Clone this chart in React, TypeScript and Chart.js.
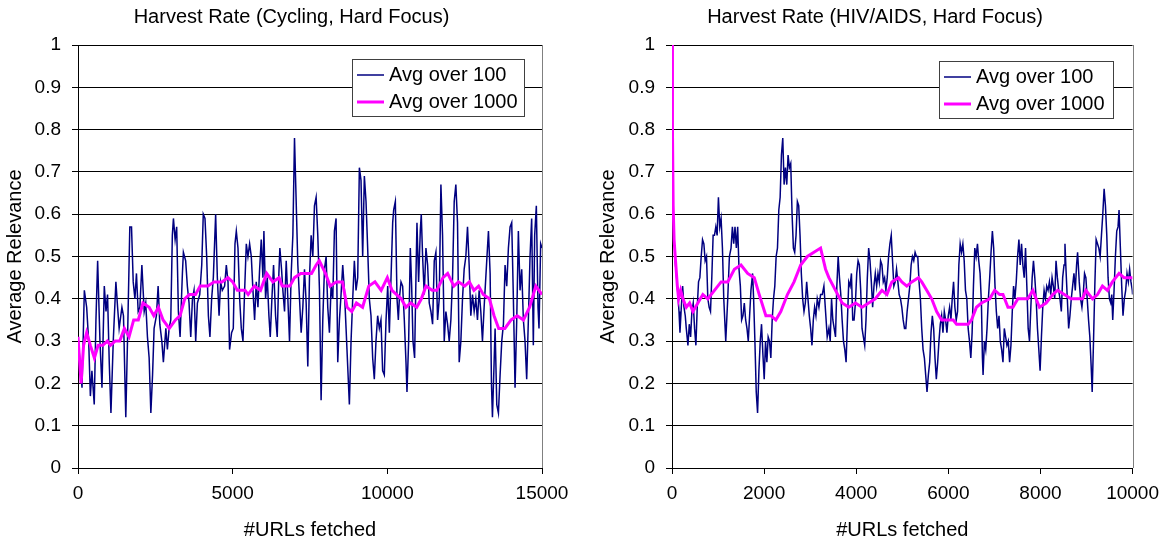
import React, { useEffect, useRef } from "react";
import { Chart, registerables } from "chart.js";

Chart.register(...registerables);

// ---------- Data: Cycling (left panel) ----------
const cyclingTitle = "Harvest Rate (Cycling, Hard Focus)";
const cyclingXMax = 15000;
const cyclingXStep = 5000;

const cyclingAvg100X = [
  0, 130, 205, 280, 345, 400, 450, 525, 580, 635, 710, 775, 850, 905, 955, 1010, 1065, 1140, 1225, 1280,
  1330, 1420, 1470, 1545, 1600, 1675, 1730, 1785, 1840, 1890, 1945, 2000, 2065, 2140, 2190, 2245, 2300, 2355, 2410, 2460,
  2535, 2590, 2645, 2710, 2760, 2840, 2890, 2945, 2999, 3050, 3085, 3140, 3190, 3245, 3300, 3375, 3407, 3480, 3535, 3590,
  3645, 3700, 3750, 3805, 3860, 3935, 4000, 4050, 4105, 4160, 4215, 4265, 4320, 4375, 4450, 4505, 4560, 4610, 4665, 4740,
  4795, 4850, 4900, 4965, 5020, 5075, 5118, 5172, 5226, 5279, 5333, 5387, 5441, 5494, 5548, 5602, 5656, 5709, 5763, 5817,
  5871, 5924, 5978, 6010, 6064, 6118, 6172, 6215, 6268, 6322, 6387, 6440, 6494, 6526, 6580, 6623, 6677, 6731, 6784, 6838,
  6892, 6946, 6999, 7053, 7107, 7161, 7214, 7268, 7322, 7376, 7429, 7483, 7537, 7591, 7644, 7698, 7752, 7806, 7859, 7913,
  7967, 8021, 8074, 8128, 8182, 8236, 8289, 8343, 8397, 8451, 8504, 8558, 8612, 8666, 8719, 8773, 8827, 8881, 8934, 8988,
  9042, 9096, 9149, 9203, 9257, 9311, 9364, 9418, 9472, 9526, 9579, 9633, 9687, 9741, 9794, 9848, 9902, 9958, 10012, 10065,
  10119, 10173, 10205, 10259, 10313, 10356, 10388, 10442, 10495, 10549, 10603, 10635, 10689, 10743, 10786, 10829, 10882, 10925, 10958, 11011,
  11065, 11097, 11140, 11194, 11248, 11302, 11355, 11409, 11463, 11517, 11570, 11624, 11678, 11732, 11785, 11839, 11893, 11947, 12000, 12054,
  12108, 12162, 12215, 12269, 12323, 12377, 12430, 12484, 12538, 12592, 12645, 12699, 12753, 12807, 12860, 12914, 12968, 13022, 13075, 13129,
  13183, 13237, 13269, 13323, 13366, 13398, 13452, 13484, 13538, 13591, 13645, 13699, 13753, 13806, 13860, 13914, 13968, 14021, 14075, 14129,
  14183, 14236, 14290, 14344, 14398, 14451, 14505, 14559, 14613, 14666, 14720, 14763, 14817, 14871, 14903, 14957, 15000,
];
const cyclingAvg100Y = [
  0.31, 0.19, 0.42, 0.38, 0.30, 0.17, 0.23, 0.15, 0.35, 0.49, 0.30, 0.19, 0.43, 0.37, 0.41, 0.25, 0.13, 0.30, 0.44, 0.38,
  0.33, 0.38, 0.36, 0.12, 0.30, 0.57, 0.57, 0.44, 0.40, 0.46, 0.37, 0.38, 0.48, 0.37, 0.39, 0.31, 0.26, 0.13, 0.22, 0.33,
  0.36, 0.43, 0.34, 0.30, 0.25, 0.33, 0.28, 0.33, 0.35, 0.55, 0.59, 0.54, 0.57, 0.37, 0.31, 0.46, 0.51, 0.49, 0.43, 0.39,
  0.31, 0.40, 0.42, 0.30, 0.39, 0.41, 0.48, 0.60, 0.59, 0.50, 0.36, 0.31, 0.40, 0.45, 0.60, 0.45, 0.36, 0.44, 0.42, 0.43,
  0.48, 0.44, 0.28, 0.32, 0.33, 0.53, 0.56, 0.52, 0.40, 0.33, 0.30, 0.42, 0.53, 0.50, 0.53, 0.50, 0.42, 0.35, 0.44, 0.38,
  0.47, 0.54, 0.45, 0.56, 0.40, 0.45, 0.36, 0.31, 0.40, 0.48, 0.36, 0.31, 0.46, 0.52, 0.47, 0.42, 0.37, 0.49, 0.40, 0.30,
  0.46, 0.55, 0.78, 0.63, 0.48, 0.40, 0.32, 0.38, 0.47, 0.39, 0.24, 0.45, 0.55, 0.50, 0.62, 0.64, 0.55, 0.42, 0.16, 0.35,
  0.47, 0.50, 0.38, 0.32, 0.43, 0.40, 0.56, 0.59, 0.25, 0.35, 0.41, 0.48, 0.42, 0.33, 0.24, 0.15, 0.30, 0.40, 0.49, 0.42,
  0.45, 0.71, 0.68, 0.50, 0.69, 0.63, 0.52, 0.40, 0.36, 0.26, 0.21, 0.30, 0.36, 0.33, 0.35, 0.23, 0.22, 0.35, 0.43, 0.32,
  0.45, 0.58, 0.61, 0.63, 0.40, 0.35, 0.40, 0.44, 0.43, 0.35, 0.25, 0.18, 0.30, 0.52, 0.43, 0.30, 0.26, 0.45, 0.58, 0.44,
  0.56, 0.60, 0.50, 0.41, 0.52, 0.48, 0.39, 0.37, 0.34, 0.49, 0.51, 0.35, 0.40, 0.67, 0.55, 0.30, 0.37, 0.34, 0.30, 0.35,
  0.45, 0.63, 0.67, 0.58, 0.25, 0.30, 0.40, 0.47, 0.50, 0.57, 0.48, 0.36, 0.41, 0.37, 0.40, 0.35, 0.42, 0.37, 0.30, 0.38,
  0.45, 0.52, 0.56, 0.46, 0.20, 0.12, 0.25, 0.33, 0.15, 0.13, 0.22, 0.30, 0.34, 0.48, 0.43, 0.52, 0.57, 0.58, 0.40, 0.19,
  0.35, 0.56, 0.42, 0.47, 0.35, 0.30, 0.21, 0.35, 0.50, 0.59, 0.29, 0.55, 0.62, 0.38, 0.33, 0.53, 0.52,
];

const cyclingAvg1000X = [
  0, 100, 180, 280, 400, 530, 650, 800, 950, 1050, 1200, 1350, 1500, 1650, 1800, 1950, 2100, 2300, 2450, 2600,
  2750, 2950, 3150, 3300, 3450, 3600, 3800, 3950, 4200, 4400, 4650, 4850, 5000, 5150, 5400, 5500, 5700, 5900, 6100, 6300,
  6500, 6600, 6850, 7000, 7200, 7400, 7550, 7700, 7800, 8000, 8150, 8350, 8550, 8700, 8850, 9000, 9200, 9400, 9600, 9800,
  10000, 10150, 10300, 10450, 10600, 10750, 10950, 11100, 11250, 11450, 11600, 11800, 11950, 12150, 12300, 12500, 12650, 12800, 12950, 13100,
  13300, 13450, 13600, 13800, 14000, 14200, 14400, 14600, 14800, 15000,
];
const cyclingAvg1000Y = [
  0.31, 0.20, 0.29, 0.32, 0.29, 0.26, 0.29, 0.29, 0.30, 0.29, 0.30, 0.30, 0.33, 0.31, 0.35, 0.35, 0.39, 0.38, 0.36, 0.38,
  0.35, 0.33, 0.35, 0.36, 0.40, 0.41, 0.41, 0.43, 0.43, 0.44, 0.44, 0.45, 0.44, 0.42, 0.42, 0.41, 0.43, 0.42, 0.46, 0.44,
  0.45, 0.43, 0.43, 0.45, 0.46, 0.46, 0.46, 0.48, 0.49, 0.46, 0.43, 0.44, 0.44, 0.38, 0.37, 0.39, 0.38, 0.43, 0.44, 0.42,
  0.45, 0.42, 0.41, 0.40, 0.38, 0.39, 0.38, 0.40, 0.43, 0.42, 0.42, 0.45, 0.46, 0.43, 0.44, 0.43, 0.44, 0.42, 0.43, 0.41,
  0.40, 0.36, 0.33, 0.33, 0.35, 0.36, 0.35, 0.38, 0.43, 0.41,
];

// ---------- Data: HIV/AIDS (right panel) ----------
const hivTitle = "Harvest Rate (HIV/AIDS, Hard Focus)";
const hivXMax = 10000;
const hivXStep = 2000;

const hivAvg100X = [
  60, 116, 152, 173, 202, 231, 260, 288, 310, 346, 375, 404, 432, 461, 490, 519, 548, 576, 605, 634,
  663, 692, 720, 749, 778, 807, 836, 864, 893, 922, 951, 980, 1008, 1037, 1066, 1095, 1124, 1167, 1210, 1246,
  1282, 1311, 1340, 1368, 1397, 1426, 1455, 1484, 1512, 1541, 1570, 1599, 1628, 1656, 1685, 1714, 1750, 1772, 1800, 1829,
  1858, 1887, 1916, 1944, 1973, 2002, 2031, 2060, 2088, 2117, 2146, 2175, 2204, 2232, 2261, 2290, 2319, 2348, 2376, 2405,
  2434, 2463, 2492, 2520, 2549, 2578, 2607, 2636, 2664, 2693, 2722, 2751, 2780, 2808, 2837, 2866, 2895, 2924, 2952, 2981,
  3010, 3039, 3068, 3096, 3125, 3154, 3190, 3226, 3262, 3298, 3334, 3370, 3406, 3435, 3464, 3492, 3521, 3550, 3579, 3608,
  3636, 3665, 3694, 3723, 3752, 3780, 3809, 3838, 3867, 3896, 3924, 3953, 3982, 4011, 4040, 4068, 4097, 4126, 4155, 4184,
  4212, 4241, 4270, 4299, 4328, 4356, 4385, 4414, 4443, 4472, 4500, 4529, 4558, 4587, 4616, 4644, 4673, 4702, 4731, 4760,
  4788, 4817, 4846, 4875, 4904, 4932, 4961, 4990, 5019, 5048, 5076, 5105, 5134, 5163, 5192, 5220, 5249, 5278, 5307, 5336,
  5364, 5393, 5422, 5451, 5480, 5508, 5537, 5566, 5595, 5624, 5652, 5681, 5710, 5739, 5768, 5796, 5825, 5854, 5883, 5912,
  5940, 5969, 5998, 6027, 6056, 6084, 6113, 6142, 6171, 6200, 6228, 6257, 6286, 6315, 6344, 6372, 6401, 6430, 6459, 6488,
  6516, 6545, 6574, 6603, 6632, 6660, 6689, 6718, 6740, 6754, 6783, 6812, 6840, 6869, 6898, 6927, 6956, 6984, 7013, 7042,
  7071, 7100, 7128, 7157, 7186, 7215, 7244, 7272, 7301, 7330, 7359, 7388, 7416, 7445, 7474, 7503, 7532, 7560, 7589, 7618,
  7647, 7676, 7704, 7733, 7762, 7791, 7820, 7848, 7877, 7906, 7935, 7964, 7992, 8021, 8050, 8079, 8108, 8136, 8165, 8194,
  8223, 8252, 8280, 8309, 8338, 8367, 8396, 8424, 8453, 8482, 8511, 8532, 8554, 8583, 8612, 8640, 8669, 8698, 8727, 8756,
  8784, 8806, 8842, 8871, 8900, 8928, 8957, 8986, 9015, 9044, 9072, 9101, 9123, 9152, 9180, 9209, 9238, 9267, 9296, 9324,
  9353, 9382, 9411, 9440, 9468, 9497, 9526, 9548, 9569, 9598, 9627, 9656, 9684, 9706, 9735, 9764, 9792, 9821, 9850, 9879,
  9908, 9936, 9965, 9994, 10000,
];
const hivAvg100Y = [
  0.50, 0.43, 0.37, 0.32, 0.38, 0.43, 0.38, 0.36, 0.33, 0.29, 0.34, 0.31, 0.37, 0.39, 0.33, 0.29, 0.38, 0.44, 0.45, 0.50,
  0.54, 0.53, 0.49, 0.50, 0.40, 0.38, 0.37, 0.45, 0.55, 0.55, 0.57, 0.55, 0.64, 0.57, 0.59, 0.52, 0.40, 0.30, 0.40, 0.50,
  0.52, 0.57, 0.53, 0.57, 0.52, 0.57, 0.47, 0.43, 0.35, 0.36, 0.39, 0.35, 0.33, 0.30, 0.36, 0.42, 0.46, 0.40, 0.30, 0.18,
  0.13, 0.23, 0.30, 0.34, 0.27, 0.21, 0.30, 0.25, 0.31, 0.30, 0.26, 0.35, 0.40, 0.43, 0.50, 0.52, 0.61, 0.64, 0.74, 0.78,
  0.67, 0.71, 0.67, 0.74, 0.71, 0.72, 0.60, 0.52, 0.51, 0.55, 0.63, 0.62, 0.55, 0.46, 0.40, 0.37, 0.39, 0.44, 0.40, 0.36,
  0.33, 0.29, 0.35, 0.38, 0.36, 0.40, 0.38, 0.41, 0.41, 0.43, 0.37, 0.31, 0.33, 0.30, 0.40, 0.35, 0.33, 0.31, 0.43, 0.50,
  0.45, 0.41, 0.35, 0.30, 0.28, 0.25, 0.35, 0.44, 0.43, 0.46, 0.35, 0.35, 0.39, 0.46, 0.49, 0.48, 0.42, 0.33, 0.31, 0.29,
  0.35, 0.45, 0.52, 0.49, 0.44, 0.38, 0.43, 0.46, 0.43, 0.46, 0.44, 0.49, 0.48, 0.44, 0.45, 0.42, 0.45, 0.50, 0.53, 0.55,
  0.49, 0.43, 0.44, 0.47, 0.44, 0.41, 0.40, 0.38, 0.35, 0.33, 0.33, 0.37, 0.40, 0.43, 0.48, 0.50, 0.49, 0.51, 0.50, 0.50,
  0.44, 0.40, 0.33, 0.28, 0.26, 0.22, 0.18, 0.22, 0.25, 0.32, 0.36, 0.33, 0.26, 0.21, 0.25, 0.30, 0.34, 0.36, 0.32, 0.37,
  0.35, 0.32, 0.36, 0.38, 0.35, 0.40, 0.44, 0.38, 0.35, 0.37, 0.48, 0.53, 0.51, 0.53, 0.49, 0.42, 0.40, 0.33, 0.30, 0.26,
  0.32, 0.43, 0.52, 0.50, 0.53, 0.49, 0.46, 0.39, 0.26, 0.22, 0.30, 0.28, 0.33, 0.40, 0.45, 0.51, 0.56, 0.52, 0.43, 0.37,
  0.33, 0.36, 0.30, 0.28, 0.25, 0.33, 0.31, 0.29, 0.30, 0.25, 0.29, 0.37, 0.43, 0.40, 0.44, 0.50, 0.54, 0.48, 0.53, 0.48,
  0.45, 0.52, 0.43, 0.33, 0.30, 0.38, 0.45, 0.49, 0.45, 0.40, 0.33, 0.28, 0.23, 0.31, 0.38, 0.42, 0.40, 0.43, 0.42, 0.44,
  0.41, 0.45, 0.43, 0.40, 0.49, 0.45, 0.42, 0.40, 0.37, 0.45, 0.48, 0.53, 0.47, 0.40, 0.33, 0.36, 0.40, 0.43, 0.46, 0.42,
  0.48, 0.51, 0.44, 0.40, 0.38, 0.41, 0.46, 0.45, 0.40, 0.35, 0.31, 0.24, 0.18, 0.30, 0.43, 0.54, 0.53, 0.52, 0.50, 0.55,
  0.60, 0.66, 0.62, 0.55, 0.45, 0.40, 0.39, 0.41, 0.35, 0.42, 0.50, 0.56, 0.57, 0.61, 0.52, 0.43, 0.36, 0.40, 0.42, 0.46,
  0.44, 0.47, 0.44, 0.42, 0.41,
];

const hivAvg1000X = [
  0, 10, 25, 45, 70, 116, 144, 188, 238, 310, 382, 454, 562, 670, 778, 922, 1066, 1210, 1354, 1498,
  1642, 1786, 1894, 2038, 2146, 2254, 2362, 2506, 2650, 2794, 2938, 3082, 3226, 3334, 3406, 3550, 3694, 3838, 3982, 4126,
  4270, 4414, 4558, 4666, 4774, 4918, 4990, 5098, 5206, 5350, 5422, 5530, 5638, 5746, 5854, 5998, 6106, 6178, 6286, 6430,
  6502, 6610, 6718, 6898, 7006, 7114, 7186, 7294, 7402, 7510, 7618, 7726, 7834, 7978, 8122, 8266, 8374, 8518, 8662, 8806,
  8914, 8986, 9058, 9130, 9238, 9346, 9454, 9562, 9706, 9814, 9922, 10000,
];
const hivAvg1000Y = [
  1.0, 0.80, 0.62, 0.54, 0.50, 0.43, 0.40, 0.42, 0.40, 0.38, 0.39, 0.37, 0.39, 0.41, 0.40, 0.42, 0.44, 0.44, 0.47, 0.48,
  0.46, 0.45, 0.41, 0.36, 0.36, 0.35, 0.37, 0.41, 0.44, 0.48, 0.50, 0.51, 0.52, 0.47, 0.45, 0.42, 0.39, 0.38, 0.39, 0.38,
  0.39, 0.40, 0.42, 0.41, 0.44, 0.45, 0.44, 0.43, 0.44, 0.45, 0.44, 0.42, 0.40, 0.37, 0.35, 0.35, 0.35, 0.34, 0.34, 0.34,
  0.35, 0.38, 0.39, 0.40, 0.42, 0.41, 0.41, 0.38, 0.38, 0.40, 0.40, 0.40, 0.42, 0.38, 0.39, 0.41, 0.42, 0.41, 0.40, 0.40,
  0.40, 0.42, 0.41, 0.40, 0.41, 0.43, 0.42, 0.44, 0.46, 0.45, 0.45, 0.45,
];

// ---------- Shared labels / ticks ----------
const seriesLabels = ["Avg over 100", "Avg over 1000"];
const yAxisTitle = "Average Relevance";
const xAxisTitle = "#URLs fetched";
const yMin = 0;
const yMax = 1;
const yStep = 0.1;

// ---------- Styles ----------
const FONT = '"Liberation Sans", Arial, Helvetica, sans-serif';
const BLUE = "#000080";
const PINK = "#FF00FF";

type PanelProps = {
  title: string;
  x100: number[];
  y100: number[];
  x1000: number[];
  y1000: number[];
  xMax: number;
  xStep: number;
  width: number;
  left: number;
  axisWidth: number;
  padRight: number;
  yTitlePad: number;
  legendBox: { x: number; y: number; w: number; h: number };
};

function toPoints(xs: number[], ys: number[]) {
  return xs.map((x, i) => ({ x, y: ys[i] }));
}

function HarvestPanel(p: PanelProps) {
  const ref = useRef<HTMLCanvasElement | null>(null);

  useEffect(() => {
    const canvas = ref.current;
    if (!canvas) return;

    const decor = {
      id: "decor",
      afterDatasetsDraw(chart: any) {
        const ctx = chart.ctx;
        const a = chart.chartArea;
        ctx.save();
        // right frame line
        ctx.strokeStyle = "#808080";
        ctx.lineWidth = 1;
        ctx.beginPath();
        ctx.moveTo(Math.round(a.right) + 0.5, a.top);
        ctx.lineTo(Math.round(a.right) + 0.5, a.bottom);
        ctx.stroke();

        // legend
        const b = p.legendBox;
        ctx.fillStyle = "#ffffff";
        ctx.fillRect(b.x, b.y, b.w, b.h);
        ctx.strokeStyle = "#404040";
        ctx.lineWidth = 1;
        ctx.strokeRect(b.x + 0.5, b.y + 0.5, b.w, b.h);
        const ds = chart.data.datasets;
        const order = [1, 0];
        order.forEach((di: number, row: number) => {
          const d = ds[di];
          const cy = b.y + 16 + row * 27;
          ctx.strokeStyle = d.borderColor;
          ctx.lineWidth = d.borderWidth;
          ctx.beginPath();
          ctx.moveTo(b.x + 5, cy);
          ctx.lineTo(b.x + 32, cy);
          ctx.stroke();
          ctx.fillStyle = "#000";
          ctx.font = `20px ${FONT}`;
          ctx.textBaseline = "middle";
          ctx.textAlign = "left";
          ctx.fillText(d.label, b.x + 37, cy);
        });

        // chart title
        ctx.fillStyle = "#000";
        ctx.font = `20px ${FONT}`;
        ctx.textAlign = "center";
        ctx.textBaseline = "middle";
        ctx.fillText(p.title, chart.width / 2, 17);
        ctx.restore();
      },
    };

    const chart = new Chart(canvas, {
      type: "line",
      data: {
        datasets: [
          {
            label: seriesLabels[1],
            data: toPoints(p.x1000, p.y1000),
            borderColor: PINK,
            backgroundColor: PINK,
            borderWidth: 3,
            pointRadius: 0,
            tension: 0,
            order: 0,
          },
          {
            label: seriesLabels[0],
            data: toPoints(p.x100, p.y100),
            borderColor: BLUE,
            backgroundColor: BLUE,
            borderWidth: 1.5,
            pointRadius: 0,
            tension: 0,
            order: 1,
          },
        ],
      },
      options: {
        responsive: false,
        animation: false,
        devicePixelRatio: 1,
        layout: { padding: { left: 0, right: p.padRight, top: 45, bottom: 0 } },
        plugins: {
          legend: { display: false },
          title: { display: false },
          tooltip: { enabled: false },
        },
        scales: {
          x: {
            type: "linear",
            min: 0,
            max: p.xMax,
            afterFit: (s: any) => {
              s.height = 76;
            },
            ticks: {
              stepSize: p.xStep,
              color: "#000",
              padding: 8,
              maxRotation: 0,
              font: { family: FONT, size: 19 },
              callback: (v: any) => String(Math.round(Number(v))),
            },
            grid: {
              drawOnChartArea: false,
              drawTicks: true,
              tickLength: 6,
              color: "#000",
            },
            border: { display: true, color: "#000", width: 1 },
            title: {
              display: true,
              text: xAxisTitle,
              color: "#000",
              font: { family: FONT, size: 20 },
              padding: { top: 0, bottom: 2 },
            },
          },
          y: {
            type: "linear",
            min: yMin,
            max: yMax,
            afterFit: (s: any) => {
              s.width = p.axisWidth;
            },
            ticks: {
              stepSize: yStep,
              color: "#000",
              padding: 11,
              font: { family: FONT, size: 19 },
              callback: (v: any) => String(Math.round(Number(v) * 10) / 10),
            },
            grid: {
              drawOnChartArea: true,
              drawTicks: true,
              tickLength: 6,
              color: "#000",
              lineWidth: 1,
            },
            border: { display: true, color: "#000", width: 1 },
            title: {
              display: true,
              text: yAxisTitle,
              color: "#000",
              font: { family: FONT, size: 20 },
              padding: { top: p.yTitlePad, bottom: 0 },
            },
          },
        },
      },
      plugins: [decor],
    } as any);

    return () => chart.destroy();
  }, []);

  return (
    <canvas
      ref={ref}
      width={p.width}
      height={544}
      style={{ position: "absolute", left: p.left, top: 0, width: p.width, height: 544, display: "block" }}
    />
  );
}

export default function App() {
  return (
    <div style={{ position: "absolute", left: 0, top: 0, width: 1167, height: 544, background: "#fff" }}>
      <HarvestPanel
        title={cyclingTitle}
        x100={cyclingAvg100X}
        y100={cyclingAvg100Y}
        x1000={cyclingAvg1000X}
        y1000={cyclingAvg1000Y}
        xMax={cyclingXMax}
        xStep={cyclingXStep}
        width={583}
        left={0}
        axisWidth={78}
        padRight={41}
        yTitlePad={3}
        legendBox={{ x: 352, y: 59, w: 172, h: 57 }}
      />
      <HarvestPanel
        title={hivTitle}
        x100={hivAvg100X}
        y100={hivAvg100Y}
        x1000={hivAvg1000X}
        y1000={hivAvg1000Y}
        xMax={hivXMax}
        xStep={hivXStep}
        width={584}
        left={583}
        axisWidth={89}
        padRight={32}
        yTitlePad={13}
        legendBox={{ x: 356, y: 61, w: 174, h: 57 }}
      />
    </div>
  );
}
